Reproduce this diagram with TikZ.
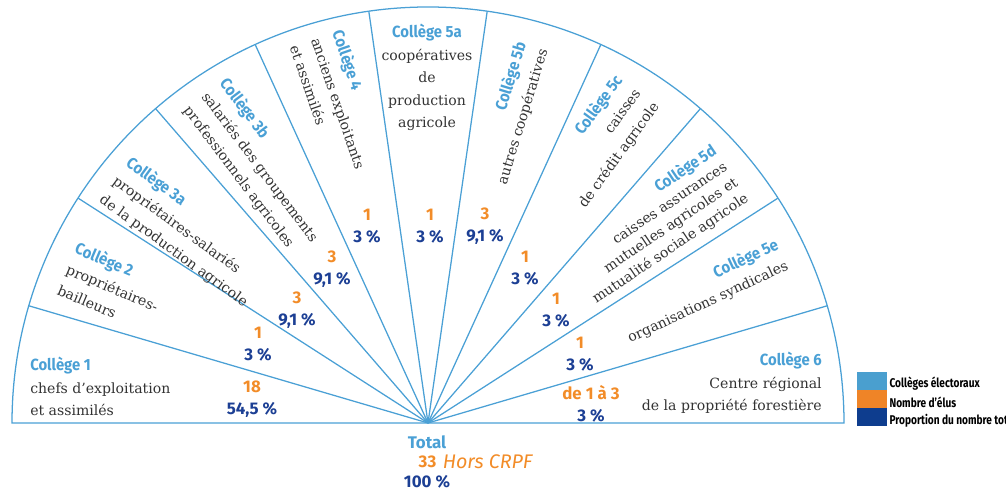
\documentclass[tikz,border=0pt]{standalone}
\usepackage{fontspec}
\usepackage{graphicx}
\setmainfont{DejaVu Serif}
\newfontfamily\labelfont{Fira Sans}
\usetikzlibrary{positioning}
\definecolor{collblue}{HTML}{4AA0D5}
\definecolor{eluorange}{HTML}{F28C28}
\definecolor{propblue}{HTML}{1C3F94}
\definecolor{desctext}{HTML}{333333}
\definecolor{legblue}{HTML}{4A9FCF}
\definecolor{legorange}{HTML}{EF8427}
\definecolor{legdark}{HTML}{0E3D8E}
\newcommand{\coll}[1]{{\labelfont\bfseries\fontsize{11.5}{16}\selectfont\color{collblue}\scalebox{0.92}[1]{#1}}}
\newcommand{\legtxt}[1]{\scalebox{0.8}[1]{#1}}
\tikzset{
  fanline/.style={draw=collblue, line width=0.9pt},
  desc/.style={inner sep=0pt, font=\fontsize{10}{16}\selectfont, text=desctext},
  descL/.style={desc, align=left, anchor=north west, rotate=#1},
  descR/.style={desc, align=right, anchor=north east, rotate=#1},
  count/.style={inner sep=0pt, align=center,
    font=\labelfont\bfseries\fontsize{12}{15.6}\selectfont},
  hors/.style={inner sep=0pt, text=eluorange,
    font=\labelfont\itshape\fontsize{14}{16}\selectfont},
  legbox/.style={minimum width=0.75cm, minimum height=0.44cm, inner sep=0pt},
  legtext/.style={inner sep=0pt, anchor=west,
    font=\labelfont\bfseries\fontsize{9}{10}\selectfont}
}
\begin{document}
\begin{tikzpicture}[x=0.025cm, y=0.025cm]
  \useasboundingbox (0,0) rectangle (1006,491);
  \clip (0,0) rectangle (1006,491);
  \coordinate (c) at (428,68);

  % fan outline and spokes
  \draw[fanline] (c) ++(416,0) arc[start angle=0, end angle=180, radius=416] -- cycle;
  \foreach \k in {1,...,10}
    \draw[fanline] (c) -- ++(\k*180/11:416);

  % colleges
  \node[desc, align=left, anchor=north west] (s1) at (30,134)
    {\coll{Collège 1}\\ chefs d’exploitation\\ et assimilés};
  \node[descL=-23] (s2) at (79,251)
    {\coll{Collège 2}\\ propriétaires-\\ bailleurs};
  \node[descL=-36] (s3a) at (133,337)
    {\coll{Collège 3a}\\ propriétaires-salariés\\ de la production agricole};
  \node[descL=-53] (s3b) at (230,416)
    {\coll{Collège 3b}\\ salariés des groupements\\ professionnels agricoles};
  \node[descL=-71] (s4) at (345,463)
    {\coll{Collège 4}\\ anciens exploitants\\ et assimilés};
  \node[desc, align=center, anchor=north] (s5a) at (427,467)
    {\coll{Collège 5a}\\ coopératives\\ de\\ production\\ agricole};
  \node[descR=73] (s5b) at (513,451)
    {\coll{Collège 5b}\\ autres coopératives};
  \node[descR=54] (s5c) at (612,419)
    {\coll{Collège 5c}\\ caisses\\ de crédit agricole};
  \node[descR=34, font=\fontsize{10}{13.5}\selectfont] (s5d) at (710,349)
    {\coll{Collège 5d}\\ caisses assurances\\ mutuelles agricoles et\\ mutualité sociale agricole};
  \node[descR=25] (s5e) at (774,255)
    {\coll{Collège 5e}\\ organisations syndicales};
  \node[desc, align=right, anchor=north east] (s6) at (822,139)
    {\coll{Collège 6}\\ Centre régional\\ de la propriété forestière};

  % elus and proportions
  \foreach \nm/\xx/\yy/\elus/\pct in {
      c1/252/92/18/{54,5}, c2/258/146.5/1/3, c3a/297/181/3/{9,1},
      c3b/332/222/3/{9,1}, c4/367/265/1/3, c5a/430/265/1/3,
      c5b/485/265/3/{9,1}, c5c/525/222.5/1/3, c5d/556/181/1/3,
      c5e/580/136.5/1/3, c6/591/87/{de 1 à 3}/3}
    \node[count] (\nm) at (\xx,\yy)
      {\textcolor{eluorange}{\elus}\\\textcolor{propblue}{\pct~\%}};

  % total
  \node[count, text=collblue] (total) at (427,49) {Total};
  \node[count, text=eluorange] (tot33) at (427.5,29) {33};
  \node[hors, right=0.15cm of tot33] (hors) {Hors CRPF};
  \node[count, text=propblue] (tot100) at (427,9.5) {100~\%};

  % legend
  \node[legbox, fill=legblue] (lb1) at (872,110.2) {};
  \node[legbox, fill=legorange, below=0pt of lb1] (lb2) {};
  \node[legbox, fill=legdark, below=0pt of lb2] (lb3) {};
  \node[legtext, right=0.05cm of lb1, yshift=-0.06cm] (lt1) {\legtxt{Collèges électoraux}};
  \node[legtext, right=0.05cm of lb2, yshift=-0.08cm] (lt2) {\legtxt{Nombre d’élus}};
  \node[legtext, right=0.05cm of lb3, yshift=-0.1cm] (lt3) {\legtxt{Proportion du nombre total}};
\end{tikzpicture}
\end{document}
